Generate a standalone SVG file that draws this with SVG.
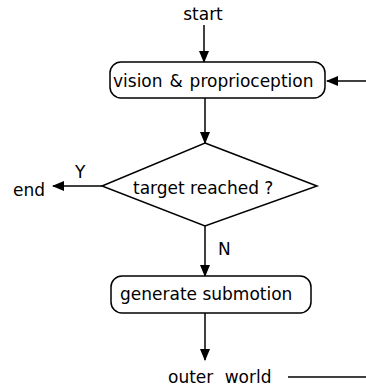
<svg xmlns="http://www.w3.org/2000/svg" width="366" height="386" viewBox="0 0 366 386">
<style>
text{font-family:"DejaVu Sans",Verdana,sans-serif;font-size:17px;fill:#000}
.n{fill:#fff;stroke:#000;stroke-width:1.5}
.c{fill:none;stroke:#000;stroke-width:1.5}
</style>
<defs>
<marker id="a" markerWidth="12" markerHeight="10" refX="11" refY="5" orient="auto" markerUnits="userSpaceOnUse">
<path d="M0,0 L12,5 L0,10 Z" fill="#000"/>
</marker>
</defs>
<rect width="366" height="386" fill="#fff"/>
<g id="connectors">
<path class="c" d="M204,25 V62" marker-end="url(#a)"/>
<path class="c" d="M205,98 V143" marker-end="url(#a)"/>
<path class="c" d="M102,186 H53" marker-end="url(#a)"/>
<path class="c" d="M205,226 V276" marker-end="url(#a)"/>
<path class="c" d="M205,313 V360" marker-end="url(#a)"/>
<path class="c" d="M288,377 H366"/>
<path class="c" d="M366,81 H327" marker-end="url(#a)"/>
<text x="75" y="178">Y</text>
<text x="218" y="255">N</text>
</g>
<g id="start"><text x="203" y="20" text-anchor="middle">start</text></g>
<g id="vision"><rect class="n" x="110" y="62" width="215" height="36" rx="11"/><text x="113" y="87" word-spacing="1.5">vision &amp; proprioception</text></g>
<g id="target"><polygon class="n" points="205,143 317,186 205,226 102,186"/><text x="133" y="194">target reached ?</text></g>
<g id="end"><text x="13" y="196">end</text></g>
<g id="generate"><rect class="n" x="111" y="276" width="200" height="37" rx="11"/><text x="120" y="300">generate submotion</text></g>
<g id="outer"><text x="168" y="383" word-spacing="6">outer world</text></g>
</svg>
